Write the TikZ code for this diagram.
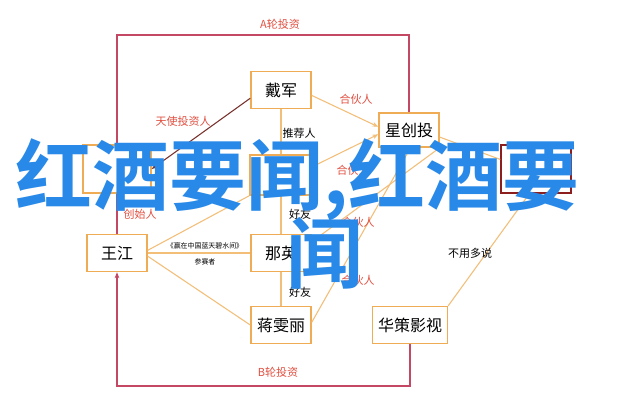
\documentclass[tikz,border=0pt]{standalone}
\usepackage{fontspec}
\setmainfont{Noto Sans CJK SC}[BoldFont={Noto Sans CJK SC Bold}]
\usetikzlibrary{arrows.meta}
\definecolor{boxor}{RGB}{240,172,85}
\definecolor{lineor}{RGB}{242,190,120}
\definecolor{framered}{RGB}{196,72,100}
\definecolor{lblred}{RGB}{225,80,65}
\definecolor{darkred}{RGB}{140,30,30}
\definecolor{angel}{RGB}{120,50,45}
\definecolor{bigblue}{RGB}{40,137,232}
\begin{document}
\begin{tikzpicture}[x=0.75pt,y=-0.75pt,
  box/.style={draw=boxor, line width=1.1pt, fill=white, inner sep=0pt,
    minimum width={#1*0.75pt}, minimum height={37*0.75pt},
    font=\fontsize{12}{14}\selectfont},
  conn/.style={draw=lineor, line width=0.8pt},
  frame/.style={draw=framered, line width=0.9pt},
  tip/.style={-{Stealth[length=4.5pt,width=3.5pt]}},
  lbl/.style={inner sep=0pt, font=\fontsize{8.25}{9}\selectfont},
  rlbl/.style={lbl, text=lblred},
  tiny/.style={inner sep=0pt, font=\fontsize{5.2}{6}\selectfont},
  big/.style={inner sep=0pt, text=bigblue, font=\fontsize{57.75}{60}\selectfont\bfseries}
]
\useasboundingbox[fill=white] (0,0) rectangle (640,411);

% nodes
\node[box=60] (daijun) at (281,90) {戴军};
\node[box=60, minimum height={34*0.75pt}] (xct) at (409,130) {星创投};
\node[box=68, minimum height={48*0.75pt}] (lefthid) at (117,169) {};
\node[box=62, minimum height={40*0.75pt}] (midhid) at (281,175) {};
\node[box=70, minimum height={48*0.75pt}, draw=darkred] (righthid) at (536,169) {};
\node[box=60] (wang) at (117,253) {王江};
\node[box=60] (naying) at (281,253) {那英};
\node[box=60] (jiang) at (281,325) {蒋雯丽};
\node[box=75] (huace) at (410,325) {华策影视};

% frame lines
\coordinate (atop) at (117,35);
\coordinate (bbot) at (117,386);
\draw[frame] (xct.north) |- (atop) -- (lefthid.north);
\draw[frame,tip] (huace.south) |- (bbot) -- (wang.south);
\draw[frame] (lefthid.south) -- (wang.north);

% connectors
\draw[draw=angel, line width=0.8pt, tip] (daijun.195) -- (lefthid.east);
\draw[conn] (daijun.south) -- (midhid.north);
\draw[conn] (midhid.south) -- (naying.north);
\draw[conn] (naying.south) -- (jiang.north);
\draw[conn,tip] (daijun.-10) -- (xct.174);
\draw[conn,tip] (midhid.15) -- (xct.188);
\draw[conn] (naying.20) -- (xct.-30);
\draw[conn] (jiang.5) -- (xct.-85);
\draw[conn] (xct.-13) -- (righthid.165);
\draw[conn] (righthid.-105) -- (huace.north east);
\draw[conn] (wang.east) -- (naying.west);
\draw[conn] (wang.5) -- (midhid.south west);
\draw[conn] (wang.-6) -- (jiang.west);

% labels
\node[rlbl] (la) at (280,24) {A轮投资};
\node[rlbl] (lb) at (278,372) {B轮投资};
\node[rlbl] (langel) at (183,121) {天使投资人};
\node[rlbl] (lhh1) at (356,99) {合伙人};
\node[rlbl] (lhh2) at (353,170) {合伙人};
\node[rlbl] (lhh3) at (358,222) {合伙人};
\node[rlbl] (lhh4) at (358,280) {合伙人};
\node[rlbl] (lfound) at (140,214) {创始人};
\node[lbl] (lrec) at (299,133) {推荐人};
\node[lbl] (lfr1) at (300,214) {好友};
\node[lbl] (lfr2) at (300,292) {好友};
\node[lbl] (lnm) at (470,253) {不用多说};
\node[tiny] (lshow) at (205,246) {《赢在中国蓝天碧水间》};
\node[tiny] (lpart) at (205,262) {参赛者};

% overlay title
\node[big, anchor=base west] (title1) at (15,204) {红酒要闻,红酒要};
\node[big, anchor=base west] (title2) at (286,282) {闻};
\end{tikzpicture}
\end{document}
